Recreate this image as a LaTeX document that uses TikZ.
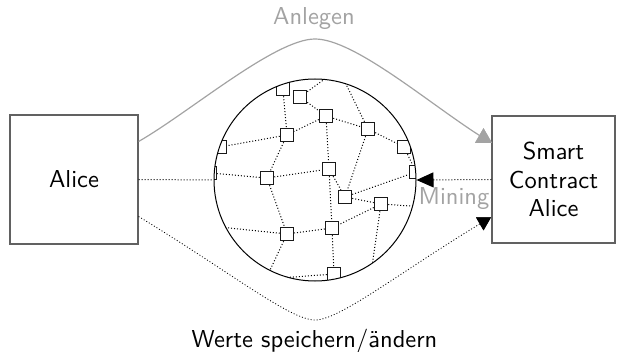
\documentclass[tikz,border=0pt]{standalone}
\usepackage{fontspec}
\setsansfont{lmsans10-regular.otf}
\usetikzlibrary{arrows.meta,shapes.geometric}
\definecolor{boxline}{gray}{0.38}
\definecolor{softgray}{gray}{0.64}
\tikzset{
  party/.style={draw=boxline, line width=1.2pt, inner sep=0pt, align=center},
  peer/.style={draw=black!90, fill=white, line width=1pt, minimum size=13.5pt, inner sep=0pt},
  link/.style={line width=1pt, dash pattern=on 1pt off 2pt},
  ring/.style={circle, draw=black, line width=1pt, minimum size=202pt, inner sep=0pt},
  createline/.style={draw=softgray, line width=1.2pt},
  tiphead/.style={regular polygon, regular polygon sides=3, inner sep=0pt},
  caption/.style={anchor=base, inner sep=0pt}
}
\begin{document}
\begin{tikzpicture}[x=1pt, y=-1pt, font=\sffamily\fontsize{24.5}{28.6}\selectfont]
\useasboundingbox (0,0) rectangle (617,352);

% peer-to-peer network, cut off at the round edge
\coordinate (hub) at (315,180);
\begin{scope}
  \clip (hub) circle[radius=101pt];
  \node[peer] (n1)  at (283,89)  {};
  \node[peer] (n2)  at (300,97)  {};
  \node[peer] (n3)  at (326,116) {};
  \node[peer] (n4)  at (368,129) {};
  \node[peer] (n5)  at (404,147) {};
  \node[peer] (n6)  at (287,135) {};
  \node[peer] (n7)  at (220,147) {};
  \node[peer] (n8)  at (210,173) {};
  \node[peer] (n9)  at (267,178) {};
  \node[peer] (n10) at (329,169) {};
  \node[peer] (n11) at (416,172) {};
  \node[peer] (n12) at (345,197) {};
  \node[peer] (n13) at (381,204) {};
  \node[peer] (n14) at (287,234) {};
  \node[peer] (n15) at (332,228) {};
  \node[peer] (n16) at (334,274) {};
  \coordinate (b1) at (337,70);
  \coordinate (b2) at (341,74);
  \coordinate (b3) at (425,207);
  \coordinate (b4) at (370,280);
  \coordinate (b5) at (210,226);
  \coordinate (b6) at (263,285);
  \coordinate (b7) at (280,278);
  \draw[link] (n1) -- (n6);
  \draw[link] (n2) -- (b1);
  \draw[link] (n2) -- (n3);
  \draw[link] (n3) -- (n6);
  \draw[link] (n3) -- (n4);
  \draw[link] (n3) -- (n10);
  \draw[link] (n4) -- (b2);
  \draw[link] (n4) -- (n5);
  \draw[link] (n4) -- (n12);
  \draw[link] (n5) -- (n11);
  \draw[link] (n6) -- (n7);
  \draw[link] (n6) -- (n9);
  \draw[link] (n9) -- (n8);
  \draw[link] (n9) -- (n10);
  \draw[link] (n9) -- (n14);
  \draw[link] (n10) -- (n12);
  \draw[link] (n10) -- (n15);
  \draw[link] (n12) -- (n11);
  \draw[link] (n12) -- (n13);
  \draw[link] (n13) -- (b3);
  \draw[link] (n13) -- (b4);
  \draw[link] (n13) -- (n15);
  \draw[link] (n15) -- (n14);
  \draw[link] (n15) -- (n16);
  \draw[link] (n14) -- (b5);
  \draw[link] (n14) -- (b6);
  \draw[link] (n16) -- (b7);
\end{scope}
\node[ring] (net) at (hub) {};

% the two parties
\node[party, minimum width=128pt, minimum height=129pt] (alice) at (74,179.5) {Alice};
\node[party, minimum width=123pt, minimum height=127pt] (sc) at (553.5,179.5) {Smart\\Contract\\Alice};

% arrow heads at the contract
\node[tiphead, fill=softgray, minimum size=19.6pt] (tipA) at (483.5,138) {};
\node[tiphead, fill=black, minimum size=17.3pt, shape border rotate=180] (tipW) at (483.5,221.7) {};

% connectors
\draw[link] (alice.east) -- (net.west);
\draw[link, -{Triangle[length=17pt, width=15pt]}] (sc.west) -- (net.east);
\draw[createline] ([yshift=38pt]alice.east) .. controls (190,112) and (275,39) .. (315,39)
  .. controls (355,39) and (432,106) .. (tipA.center);
\draw[link, line width=0.8pt] ([yshift=-37pt]alice.east) .. controls (230,272) and (290,320) .. (315,320)
  .. controls (340,320) and (400,272) .. (tipW.center);
\node[tiphead, fill=softgray, minimum size=19.6pt] at (tipA) {};
\node[tiphead, fill=black, minimum size=17.3pt, shape border rotate=180] at (tipW) {};

% labels
\node[caption, text=softgray] (lblA) at (314,25) {Anlegen};
\node[caption, text=softgray] (lblM) at (454,205) {Mining};
\node[caption] (lblW) at (314.5,347) {Werte speichern/ändern};
\end{tikzpicture}
\end{document}
